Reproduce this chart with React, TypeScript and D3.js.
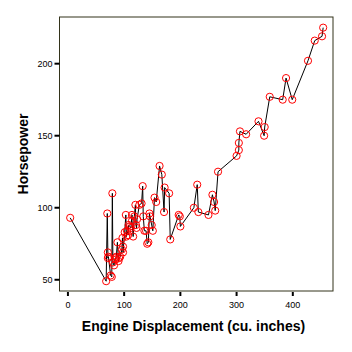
import React, { useRef, useEffect } from 'react';
import * as d3 from 'd3';

// engine displacement (cu. inches), sorted
const displacement = [
  4, 68, 70, 71, 71, 72, 76, 78, 79, 80, 82, 84, 85, 86, 88, 90, 91, 93, 96, 97,
  98, 98, 101, 103, 104, 105, 107, 108, 110, 112, 114, 114, 116, 118, 120, 121, 122, 123, 127, 131,
  133, 134, 136, 139, 141, 143, 145, 146, 149, 151, 154, 157, 163, 167, 171, 172, 180, 182, 197, 199,
  200, 224, 230, 232, 250, 257, 260, 262, 267, 300, 304, 304, 306, 317, 339, 349, 350, 359, 382, 388,
  399, 427, 439, 452, 454,
];
const horsepower = [
  93, 49, 96, 69, 65, 66, 53, 52, 110, 62, 60, 65, 64, 66, 76, 63, 65, 66, 71, 79,
  73, 69, 83, 95, 80, 84, 81, 88, 87, 86, 95, 91, 80, 94, 102, 88, 86, 92, 102, 103,
  115, 94, 84, 84, 75, 76, 96, 94, 88, 84, 107, 104, 129, 123, 97, 114, 110, 78, 95, 94,
  87, 100, 116, 97, 95, 109, 104, 98, 125, 136, 140, 145, 153, 151, 160, 150, 156, 177, 175, 190,
  175, 202, 216, 219, 225,
];
const xTicks = [0, 100, 200, 300, 400];
const yTicks = [50, 100, 150, 200];

const W = 352;
const H = 352;
const left = 59.5;
const right = 333;
const top = 17;
const bottom = 291;

const App: React.FC = () => {
  const svgRef = useRef<SVGSVGElement | null>(null);

  useEffect(() => {
    if (!svgRef.current) return;
    const svg = d3.select(svgRef.current);
    svg.selectAll('*').remove();

    const x = d3.scaleLinear().domain([-15, 471.5]).range([left, right]);
    const y = d3.scaleLinear().domain([42.2, 232.4]).range([bottom, top]);
    const font = 'Arial, "Liberation Sans", sans-serif';

    svg.append('rect').attr('width', W).attr('height', H).attr('fill', '#fff');

    // frame
    svg.append('rect')
      .attr('x', left).attr('y', top)
      .attr('width', right - left).attr('height', bottom - top)
      .attr('fill', 'none')
      .attr('stroke', '#33331a')
      .attr('stroke-width', 1);

    // y axis
    const yAxis = svg.append('g').attr('transform', `translate(${left},0)`);
    yAxis.selectAll('line').data(yTicks).enter().append('line')
      .attr('x1', -5).attr('x2', 0)
      .attr('y1', d => y(d)).attr('y2', d => y(d))
      .attr('stroke', '#000').attr('stroke-width', 2);
    yAxis.selectAll('text').data(yTicks).enter().append('text')
      .attr('x', -7).attr('y', d => y(d)).attr('dy', '0.35em')
      .attr('text-anchor', 'end')
      .style('font', `9px ${font}`)
      .text(d => d);

    // x axis
    const xAxis = svg.append('g').attr('transform', `translate(0,${bottom})`);
    xAxis.selectAll('line').data(xTicks).enter().append('line')
      .attr('x1', d => x(d)).attr('x2', d => x(d))
      .attr('y1', 1).attr('y2', 5)
      .attr('stroke', '#000').attr('stroke-width', 2);
    xAxis.selectAll('text').data(xTicks).enter().append('text')
      .attr('x', d => x(d)).attr('y', 17)
      .attr('text-anchor', 'middle')
      .style('font', `9px ${font}`)
      .text(d => d);

    // titles
    svg.append('text')
      .attr('x', 193.5).attr('y', 331)
      .attr('text-anchor', 'middle')
      .style('font', `bold 14px ${font}`)
      .text('Engine Displacement (cu. inches)');
    svg.append('text')
      .attr('transform', `translate(28,${(top + bottom) / 2}) rotate(-90)`)
      .attr('text-anchor', 'middle')
      .style('font', `bold 14px ${font}`)
      .text('Horsepower');

    const data = displacement.map((d, i) => ({ d, hp: horsepower[i] }));

    const line = d3.line<{ d: number; hp: number }>()
      .x(p => x(p.d))
      .y(p => y(p.hp));

    svg.append('path')
      .datum(data)
      .attr('d', line)
      .attr('fill', 'none')
      .attr('stroke', '#000')
      .attr('stroke-width', 1);

    svg.append('g').selectAll('circle').data(data).enter().append('circle')
      .attr('cx', p => x(p.d))
      .attr('cy', p => y(p.hp))
      .attr('r', 3.6)
      .attr('fill', 'none')
      .attr('stroke', '#ff0000')
      .attr('stroke-width', 1);
  }, []);

  return (
    <svg
      ref={svgRef}
      width={W}
      height={H}
      style={{ position: 'absolute', left: 0, top: 0 }}
    />
  );
};

export default App;
